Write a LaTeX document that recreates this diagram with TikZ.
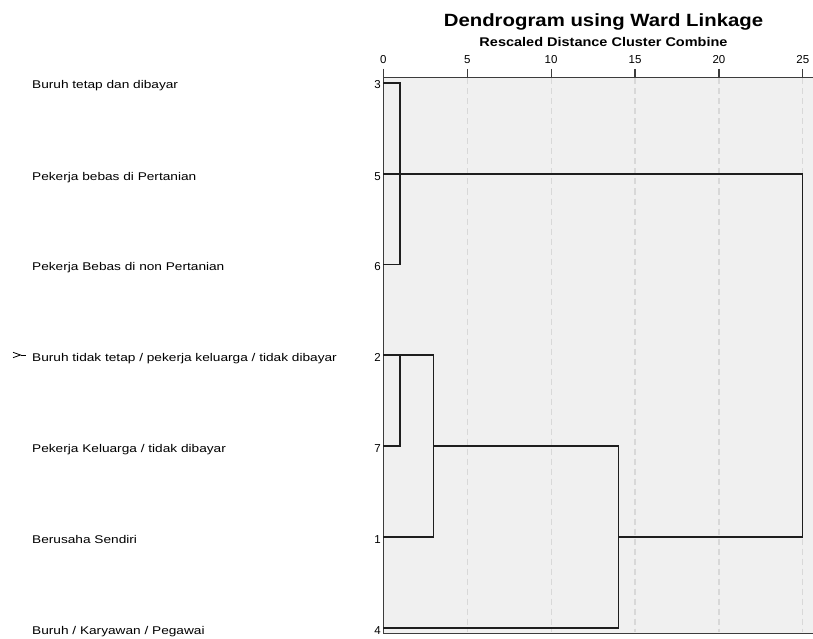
\documentclass[tikz,border=0pt]{standalone}
\usepackage{fontspec}
\newfontfamily\labfont[FakeStretch=1.22]{Liberation Sans}
\newfontfamily\ttlfont[FakeStretch=1.15]{Liberation Sans}
\newfontfamily\numfont{Liberation Sans}
\definecolor{plotbg}{HTML}{F0F0F0}
\definecolor{gridgray}{HTML}{D8D8D8}
\definecolor{axisgray}{HTML}{3C3C3C}
\definecolor{linkblack}{HTML}{1E1E1E}

\begin{document}
\begin{tikzpicture}[x=1pt,y=-1pt,
  lab/.style={anchor=base west,inner sep=0pt,font=\labfont\fontsize{11.2}{13}\selectfont},
  num/.style={anchor=base east,inner sep=0pt,font=\numfont\fontsize{11.5}{13}\selectfont},
  ticklab/.style={anchor=base,inner sep=0pt,font=\numfont\fontsize{11.5}{13}\selectfont},
  link/.style={draw=linkblack,line width=1.3pt},
  gridline/.style={draw=gridgray,line width=1.2pt,dash pattern=on 6pt off 4pt}]
  \useasboundingbox (0,0) rectangle (813,639);

  % Plot area
  \fill[plotbg] (383.3,77.5) rectangle (813,633);
  \foreach \d in {5,10,...,25}
    \draw[gridline] ({383.3+16.78*\d},78.5) -- ({383.3+16.78*\d},632);
  \draw[axisgray,line width=0.9pt] (383.3,633) -- (813,633);

  % Axis and ticks
  \draw[axisgray,line width=1.2pt] (383.3,69) -- (383.3,633);
  \draw[axisgray,line width=1.2pt] (383.3,77.5) -- (813,77.5);
  \foreach \d in {0,5,...,25} {
    \draw[axisgray,line width=1.2pt] ({383.3+16.78*\d},69) -- ({383.3+16.78*\d},77.5);
    \node[ticklab] (t\d) at ({383.3+16.78*\d},64) {\d};
  }

  % Titles
  \node[anchor=base,inner sep=0pt,font=\ttlfont\bfseries\fontsize{17.7}{20}\selectfont] (title) at (603.5,26.5) {Dendrogram using Ward Linkage};
  \node[anchor=base,inner sep=0pt,font=\ttlfont\bfseries\fontsize{12.6}{14}\selectfont] (subtitle) at (603.5,46.5) {Rescaled Distance Cluster Combine};

  % Define the leaves
  \coordinate (a3) at (383.3,83);
  \coordinate (a5) at (383.3,174);
  \coordinate (a6) at (383.3,264.5);
  \coordinate (a2) at (383.3,355);
  \coordinate (a7) at (383.3,446);
  \coordinate (a1) at (383.3,537);
  \coordinate (a4) at (383.3,628);

  % Define the merges
  \coordinate (c356) at (400.1,174);
  \coordinate (c27) at (400.1,355);
  \coordinate (c271) at (433.6,446);
  \coordinate (c2714) at (618.2,537);
  \coordinate (top) at (802.8,174);

  % Row labels
  \node[lab] (n3) at (32,89) {Buruh tetap dan dibayar};
  \node[lab] (n5) at (32,180) {Pekerja bebas di Pertanian};
  \node[lab] (n6) at (32,270.5) {Pekerja Bebas di non Pertanian};
  \node[lab] (n2) at (32,361) {Buruh tidak tetap / pekerja keluarga / tidak dibayar};
  \node[lab] (n7) at (32,452) {Pekerja Keluarga / tidak dibayar};
  \node[lab] (n1) at (32,543) {Berusaha Sendiri};
  \node[lab] (n4) at (32,634) {Buruh / Karyawan / Pegawai};

  \node[num] (k3) at (381,89) {3};
  \node[num] (k5) at (381,180) {5};
  \node[num] (k6) at (381,270.5) {6};
  \node[num] (k2) at (381,361) {2};
  \node[num] (k7) at (381,452) {7};
  \node[num] (k1) at (381,543) {1};
  \node[num] (k4) at (381,634) {4};

  % Marker
  \draw[line width=0.8pt] (13,352.3) .. controls (17,353.5) .. (20.5,355) .. controls (17,356.5) .. (13,357.7);
  \draw[line width=0.8pt] (20.5,355) -- (25.5,355);

  % Draw the dendrogram
  \draw[link] (a3) -| (c356) |- (a6);
  \draw[link] (a5) -- (top) |- (c2714);
  \draw[link] (a2) -| (c27) |- (a7);
  \draw[link] (c27) -| (c271) |- (a1);
  \draw[link] (c271) -| (c2714) |- (a4);

\end{tikzpicture}
\end{document}
